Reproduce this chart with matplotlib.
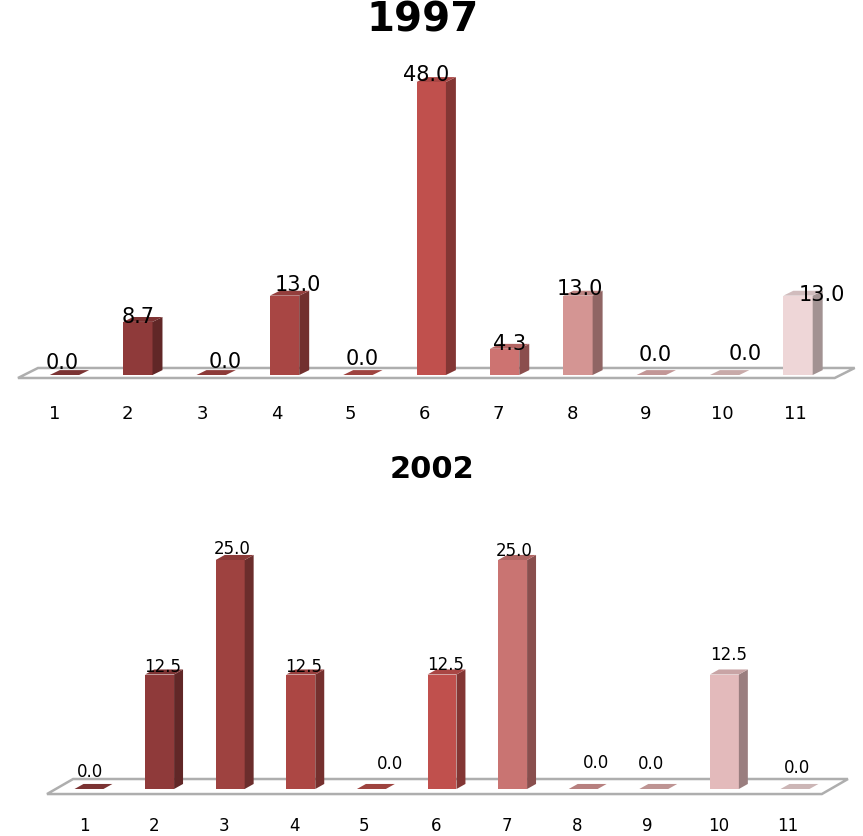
import numpy as np
import matplotlib
matplotlib.use("Agg")
import matplotlib.pyplot as plt
from matplotlib.colors import to_rgb

W, H = 863, 836

cats = [str(i) for i in range(1, 12)]
vals_1997 = [0.0, 8.7, 0.0, 13.0, 0.0, 48.0, 4.3, 13.0, 0.0, 0.0, 13.0]
vals_2002 = [0.0, 12.5, 25.0, 12.5, 0.0, 12.5, 25.0, 0.0, 0.0, 12.5, 0.0]
colors_1997 = ["#8c3a3a", "#8f3a3a", "#a04240", "#a84644", "#b44c48", "#c0504d",
               "#cd7371", "#d49593", "#dcabaa", "#e3c1c0", "#eed6d7"]
colors_2002 = ["#8c3a3a", "#8f3a3a", "#9e4240", "#ac4744", "#b44c48", "#c0504d",
               "#c97472", "#d09190", "#d8a8a7", "#e3babb", "#e8cfcf"]

# label nudges in pixels, the original chart places them unevenly
label_dx_1997 = [-2.5, 0, 14, 13.5, 4, -5, 4.5, 2, 4, 20.5, 24]
label_dy_1997 = [12, 5, 13, 11, 16, 7, 5, 7, 20, 21, 1]
tick_dx_1997 = [-9.5, -10, -9, -8, -8, -7, -6.5, -6, -6, -2.5, -3]
label_dx_2002 = [1, 3, 2, 3, 19, 4, 1.5, 13, -3, 4, 2]
label_dy_2002 = [17, 7, 11, 7, 25, 9, 9, 26, 25, 19, 21]
tick_dx_2002 = [-5, -6, -6, -6, -7, -6, -5.5, -6, -7, -6, -7]


def darker(c, f):
    return tuple(x * f for x in to_rgb(c))


def draw_panel(box, vals, colors, label_dx, label_dy, tick_dx, label_size, tick_size,
               ymax, width, depth, rise, floor, tick_y):
    ax = fig.add_axes([box[0] / W, 1 - box[3] / H, (box[2] - box[0]) / W, (box[3] - box[1]) / H])
    ax.set_xlim(0.5, 11.5)
    ax.set_ylim(0, ymax)
    ax.axis("off")
    x = np.arange(1, 12)
    # floor of the 3d box
    fl, fr, fd, fy0, fy1 = floor
    ax.fill([fl, fr, fr + fd, fl + fd], [fy0, fy0, fy1, fy1],
            fc="white", ec="#aeaeae", lw=1.8, clip_on=False, zorder=1)
    for i, xi in enumerate(x):
        v = vals[i]
        c = colors[i]
        left = xi - width / 2
        right = xi + width / 2
        ax.bar(xi, v, width, color=c, zorder=3, clip_on=False)
        # side and top faces
        ax.fill([right, right + depth, right + depth, right], [0, rise, v + rise, v],
                fc=darker(c, 0.68), ec="none", zorder=3, clip_on=False)
        ax.fill([left, right, right + depth, left + depth], [v, v, v + rise, v + rise],
                fc=darker(c, 0.88), ec="none", zorder=3, clip_on=False)
        ax.annotate("%.1f" % v, (xi, v), xytext=(label_dx[i], label_dy[i]),
                    textcoords="offset pixels", ha="center", va="center",
                    fontsize=label_size, color="black", zorder=4, annotation_clip=False)
        ax.annotate(cats[i], (xi, tick_y), xytext=(tick_dx[i], 0),
                    textcoords="offset pixels", ha="center", va="center",
                    fontsize=tick_size, color="black", annotation_clip=False)
    return ax


fig = plt.figure(figsize=(W / 100, H / 100), dpi=100, facecolor="white")
plt.rcParams["font.family"] = "DejaVu Sans"

draw_panel((27.8, 82, 834.7, 375), vals_1997, colors_1997, label_dx_1997, label_dy_1997,
           tick_dx_1997, 15, 13, 48.0, 0.4, 0.136, 0.8,
           (0.366, 11.5, 0.273, -0.49, 1.15), -6.4)
draw_panel((53.7, 560, 830.3, 789), vals_2002, colors_2002, label_dx_2002, label_dy_2002,
           tick_dx_2002, 12, 12, 25.0, 0.41, 0.127, 0.55,
           (0.405, 11.38, 0.37, -0.55, 1.09), -4.0)

fig.text(423 / W, 1 - 21 / H, "1997", ha="center", va="center",
         fontsize=29, fontweight="bold", color="black")
fig.text(431.5 / W, 1 - 470 / H, "2002", ha="center", va="center",
         fontsize=22, fontweight="bold", color="black")

fig.savefig("out.png", dpi=100)
